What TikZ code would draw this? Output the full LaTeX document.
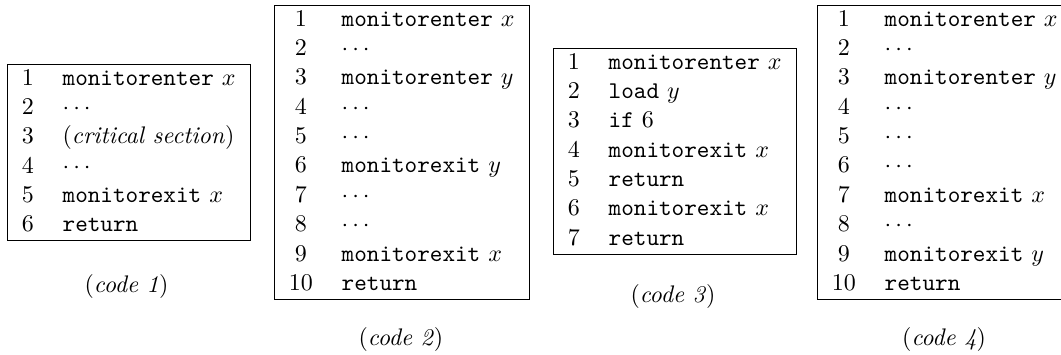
\documentclass[tikz,border=0pt]{standalone}
\usetikzlibrary{positioning}
\renewcommand{\arraystretch}{1.02}
\begin{document}
\begin{tikzpicture}[listing/.style={draw, inner sep=0pt, anchor=north west},
                    codecap/.style={inner sep=0pt}]
			\useasboundingbox (0,0) rectangle (15.535,5.184);
			% code 1
			\node[listing] (code1) at (0.102,4.247) {\begin{tabular}{cl}
				1 & \texttt{monitorenter} $x$\\
				2 & $\cdots$\\
				3 & (\textit{critical section})\\
				4 & $\cdots$\\
				5 & \texttt{monitorexit} $x$\\
				6 & \texttt{return}
			\end{tabular}};
			\node[codecap] (cap1) at (1.852,0.996) {(\textit{code 1})};
			% code 2
			\node[listing] (code2) at (4.012,5.111) {\begin{tabular}{cl}
				1 & \texttt{monitorenter} $x$\\
				2 & $\cdots$\\
				3 & \texttt{monitorenter} $y$\\
				4 & $\cdots$\\
				5 & $\cdots$\\
				6 & \texttt{monitorexit} $y$\\
				7 & $\cdots$\\
				8 & $\cdots$\\
				9 & \texttt{monitorexit} $x$\\
				10 & \texttt{return}
			\end{tabular}};
			\node[codecap] (cap2) at (5.871,0.206) {(\textit{code 2})};
			% code 3
			\node[listing] (code3) at (8.097,4.481) {\begin{tabular}{cl}
				1 & \texttt{monitorenter} $x$\\
				2 & \texttt{load} $y$\\
				3 & \texttt{if} 6\\
				4 & \texttt{monitorexit} $x$\\
				5 & \texttt{return}\\
				6 & \texttt{monitorexit} $x$\\
				7 & \texttt{return}
			\end{tabular}};
			\node[codecap] (cap3) at (9.854,0.850) {(\textit{code 3})};
			% code 4
			\node[listing] (code4) at (11.963,5.111) {\begin{tabular}{cl}
				1 & \texttt{monitorenter} $x$\\
				2 & $\cdots$\\
				3 & \texttt{monitorenter} $y$\\
				4 & $\cdots$\\
				5 & $\cdots$\\
				6 & $\cdots$\\
				7 & \texttt{monitorexit} $x$\\
				8 & $\cdots$\\
				9 & \texttt{monitorexit} $y$\\
				10 & \texttt{return}
			\end{tabular}};
			\node[codecap] (cap4) at (13.822,0.220) {(\textit{code 4})};
		\end{tikzpicture}
\end{document}
